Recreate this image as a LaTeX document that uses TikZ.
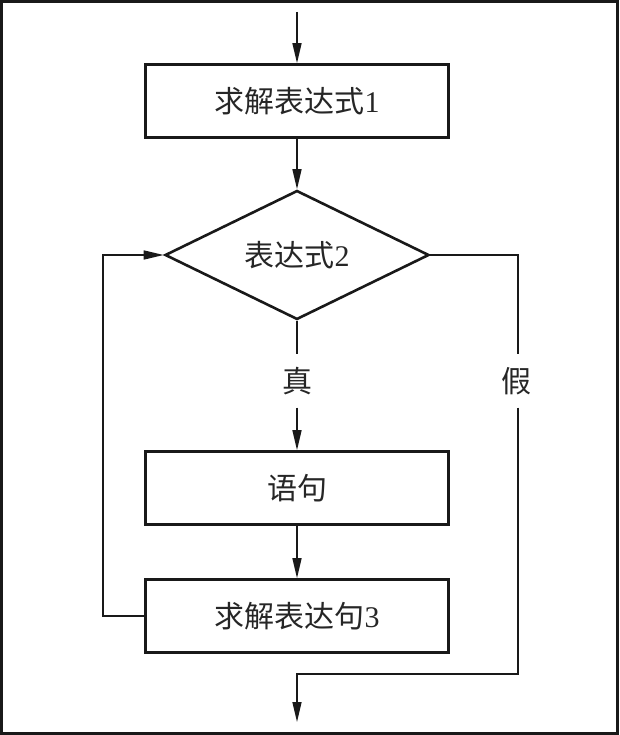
\documentclass[tikz,border=0pt]{standalone}
\usepackage{fontspec}
\setmainfont{Liberation Serif}
\newfontfamily\cjk{Noto Sans CJK SC}
\usetikzlibrary{shapes.geometric,arrows.meta}
\begin{document}
\begin{tikzpicture}[x=1pt,y=-1pt,
  font=\fontsize{30}{32}\selectfont,
  procbox/.style={draw=black!90, line width=2.6pt, minimum width=303pt, minimum height=73pt, inner sep=0pt, text=black!85},
  decbox/.style={draw=black!90, line width=2.6pt, diamond, aspect=2, minimum width=264pt, minimum height=129pt, inner sep=0pt, text=black!85},
  lbl/.style={inner sep=0pt, minimum height=53pt, minimum width=30pt, text=black!85},
  conn/.style={draw=black!90, line width=1.5pt},
  arr/.style={conn, -{Triangle[length=20pt,width=9pt]}}]
\useasboundingbox (0,0) rectangle (619,735);
\draw[line width=3pt, black!90] (1.5,1.5) rectangle (617.5,733.5);
\coordinate (start) at (297,12);
\node[procbox] (b1) at (297,101) {\cjk 求解表达式\rmfamily 1};
\node[decbox] (d) at (297,255) {\cjk 表达式\rmfamily 2};
\node[lbl] (t) at (297,381) {\cjk 真};
\node[procbox] (b2) at (297,488) {\cjk 语句};
\node[procbox] (b3) at (297,616) {\cjk 求解表达句\rmfamily 3};
\node[lbl] (f) at (516,381) {\cjk 假};
\coordinate (lc) at (103,616);
\coordinate (rc) at (518,255);
\coordinate (rb) at (518,674);
\coordinate (mb) at (297,674);
\coordinate (finish) at (297,722);
\draw[arr] (start) -- (b1.north);
\draw[arr] (b1.south) -- (d.north);
\draw[conn] (d.south) -- (t.north);
\draw[arr] (t.south) -- (b2.north);
\draw[arr] (b2.south) -- (b3.north);
\draw[arr] (b3.west) -- (lc) |- (d.west);
\draw[conn] (d.east) -- (rc) -- (rc |- f.north);
\draw[arr] (rc |- f.south) -- (rb) -- (mb) -- (finish);
\end{tikzpicture}
\end{document}
